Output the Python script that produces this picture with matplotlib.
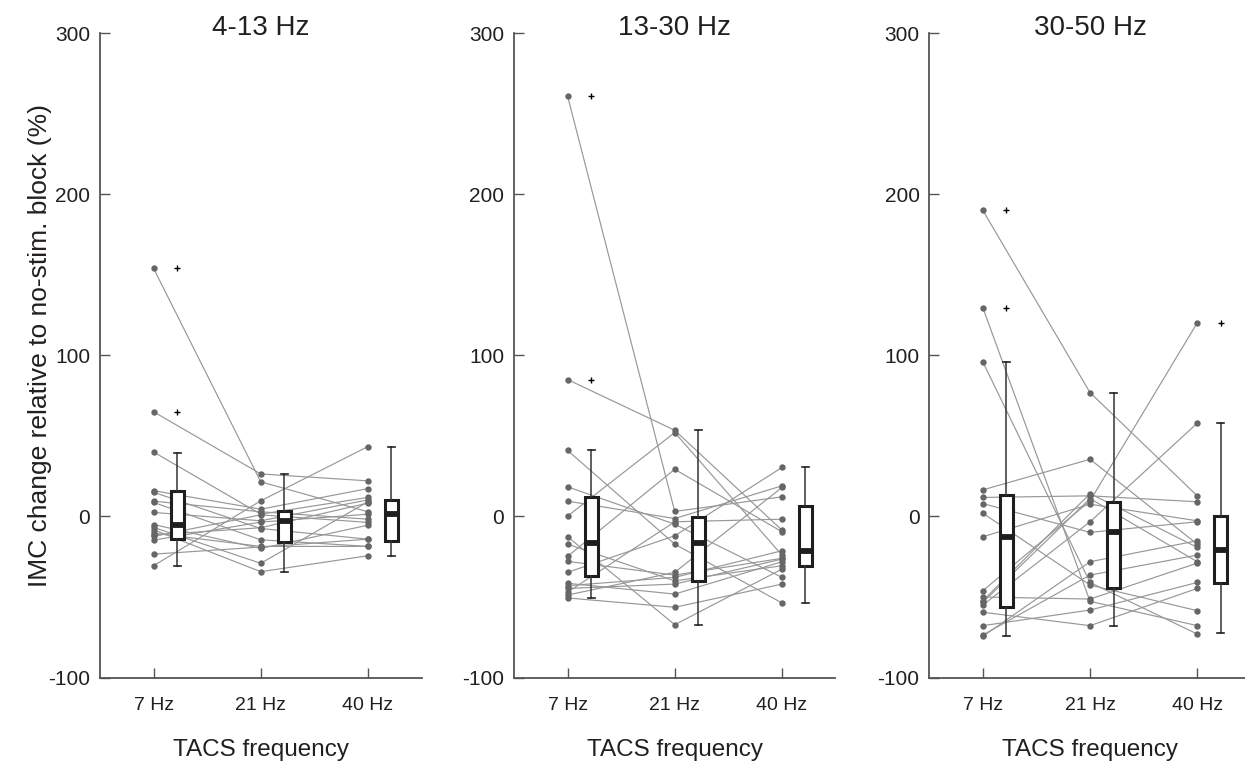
import matplotlib
matplotlib.use("Agg")
import matplotlib.pyplot as plt
import numpy as np

plt.rcParams['font.family'] = ['Liberation Sans', 'DejaVu Sans']

panel_titles = ["4-13 Hz", "13-30 Hz", "30-50 Hz"]
freq_labels = ["7 Hz", "21 Hz", "40 Hz"]
x_label = "TACS frequency"
y_label = "IMC change relative to no-stim. block (%)"
y_ticks = [-100, 0, 100, 200, 300]

# per-subject values (paired across TACS frequencies)
p1_7 = [154, 65, 40, 16, 15, 9.5, 8.7, 2.5, -5, -6.8, -8.3, -10.4, -12.4, -14.7, -23.4, -30.6, -11.5]
p1_21 = [21.5, 26.4, 1.4, 4.5, -7.5, 2.9, -14.5, -2.7, -19.9, -29.1, -34.3, -18.6, 1.0, -3.5, -19.0, 9.7, -7.0]
p1_40 = [2.9, 22.1, 11.8, 17.3, -14.1, -1.7, -18.6, 10.3, -5.4, 9.1, -24.4, -18.6, -3.7, 1.4, -14.1, 43.4, 8.3]

p2_7 = [261, 85, 41, 18.4, 9.5, 0.2, -12.6, -17.2, -24.8, -27.9, -34.7, -41.5, -43, -44.7, -48.8, -50.6, -47.0]
p2_21 = [3.1, 53.5, -17.2, -4.8, -1.3, 52.1, -67.2, -40, 29.3, -36.4, -12, -48.2, -37.8, -42, -34.7, -56.4, -3.3]
p2_40 = [12.2, -8.5, -53.7, -37.8, 19, -24, -32.7, -30.6, -9.5, -26, 30.4, -28.1, -21.3, -26.5, 18, -42, -1.7]

p3_7 = [190, 129.5, 95.9, 16.5, 11.8, 8, 2, -12.6, -46.1, -52.3, -53.3, -55, -59.5, -67.8, -73.6, -74.4, -50.0]
p3_21 = [76.9, -52.7, -41, 35.5, 12.8, -9.9, -42.6, 7.6, 9.7, 14.2, 11.1, -3.3, -67.8, -58.1, -36.4, -28.1, -51.3]
p3_40 = [12.8, -67.8, -73, -17.2, 9.1, -3.3, -58.5, -2.7, 120.2, -19.2, -28.1, 57.9, -44.7, -41, -24, -15.1, -29]

# box statistics (per panel, per frequency)
p1_q1 = [-14.1, -16.1, -15.1]
p1_med = [-5.2, -3.1, 1.4]
p1_q3 = [15.9, 3.1, 10.1]
p1_wlo = [-30.6, -34.3, -24.4]
p1_whi = [39.7, 26.2, 43.4]

p2_q1 = [-36.8, -39.9, -30.6]
p2_med = [-16.5, -16.5, -21.3]
p2_q3 = [11.8, -0.2, 6.6]
p2_wlo = [-50.4, -67.2, -53.9]
p2_whi = [41.1, 53.5, 30.4]

p3_q1 = [-56.4, -44.6, -41.3]
p3_med = [-12.8, -9.9, -20.7]
p3_q3 = [13.2, 9.1, 0.4]
p3_wlo = [-74.4, -67.8, -72.5]
p3_whi = [95.9, 76.7, 57.9]

panels = [
    ([p1_7, p1_21, p1_40], (p1_q1, p1_med, p1_q3, p1_wlo, p1_whi)),
    ([p2_7, p2_21, p2_40], (p2_q1, p2_med, p2_q3, p2_wlo, p2_whi)),
    ([p3_7, p3_21, p3_40], (p3_q1, p3_med, p3_q3, p3_wlo, p3_whi)),
]

W, H = 1245, 761
fig = plt.figure(figsize=(W / 100, H / 100), dpi=100)

lefts = [100, 514, 929.3]
width_px = 321.5
top_px, bot_px = 33.3, 677.5

dot_color = '#666666'
line_color = '#979797'
box_color = '#1e1e1e'
txt_color = '#231f20'
spine_color = '#555555'

xs = np.array([1, 2, 3])
box_off = 0.22

for pi, (cols, st) in enumerate(panels):
    ax = fig.add_axes([lefts[pi] / W, 1 - bot_px / H, width_px / W, (bot_px - top_px) / H])
    data = np.array(cols)  # shape (3, n)
    n = data.shape[1]
    for s in range(n):
        ax.plot(xs, data[:, s], color=line_color, lw=0.85, zorder=2)
    for k in range(3):
        ax.plot(np.full(n, xs[k]), data[k], 'o', color=dot_color, ms=4.6,
                mec='none', zorder=3)
    q1, med, q3, wlo, whi = st
    stats = []
    for k in range(3):
        vals = np.array(cols[k])
        fl = vals[(vals > whi[k] + 5) | (vals < wlo[k] - 5)]
        stats.append(dict(med=med[k], q1=q1[k], q3=q3[k], whislo=wlo[k],
                          whishi=whi[k], fliers=fl))
    ax.bxp(stats, positions=xs + box_off, widths=0.12, patch_artist=True,
           capwidths=0.065, manage_ticks=False,
           boxprops=dict(facecolor='white', edgecolor=box_color, lw=2.2),
           medianprops=dict(color=box_color, lw=4.2, solid_capstyle='butt'),
           whiskerprops=dict(color='#333333', lw=1.1),
           capprops=dict(color='#222222', lw=1.2),
           flierprops=dict(marker='+', markeredgecolor='black', markersize=5,
                           markeredgewidth=1.0, linestyle='none'),
           zorder=4)
    ax.set_xlim(0.5, 3.5)
    ax.set_ylim(-100, 300)
    ax.set_xticks(xs)
    ax.set_xticklabels(freq_labels)
    ax.set_yticks(y_ticks)
    ax.set_yticklabels([str(v) for v in y_ticks])
    for side in ['top', 'right']:
        ax.spines[side].set_visible(False)
    for side in ['left', 'bottom']:
        ax.spines[side].set_color(spine_color)
        ax.spines[side].set_linewidth(1.3)
    ax.tick_params(axis='both', direction='in', length=7, width=1.0,
                   color=spine_color, labelcolor=txt_color)
    ax.tick_params(axis='y', labelsize=15, pad=7)
    ax.tick_params(axis='x', labelsize=14, pad=14)
    ax.set_xlabel(x_label, fontsize=17.5, color=txt_color, labelpad=18)
    ax.set_title(panel_titles[pi], fontsize=20, color=txt_color, y=1.0, pad=-1.5)
    ax.set_facecolor('none')
    if pi == 0:
        ax.set_ylabel(y_label, fontsize=19, color=txt_color)
        ax.yaxis.set_label_coords(-0.15, 0.515)

fig.savefig('out.png', dpi=100, facecolor='white')
